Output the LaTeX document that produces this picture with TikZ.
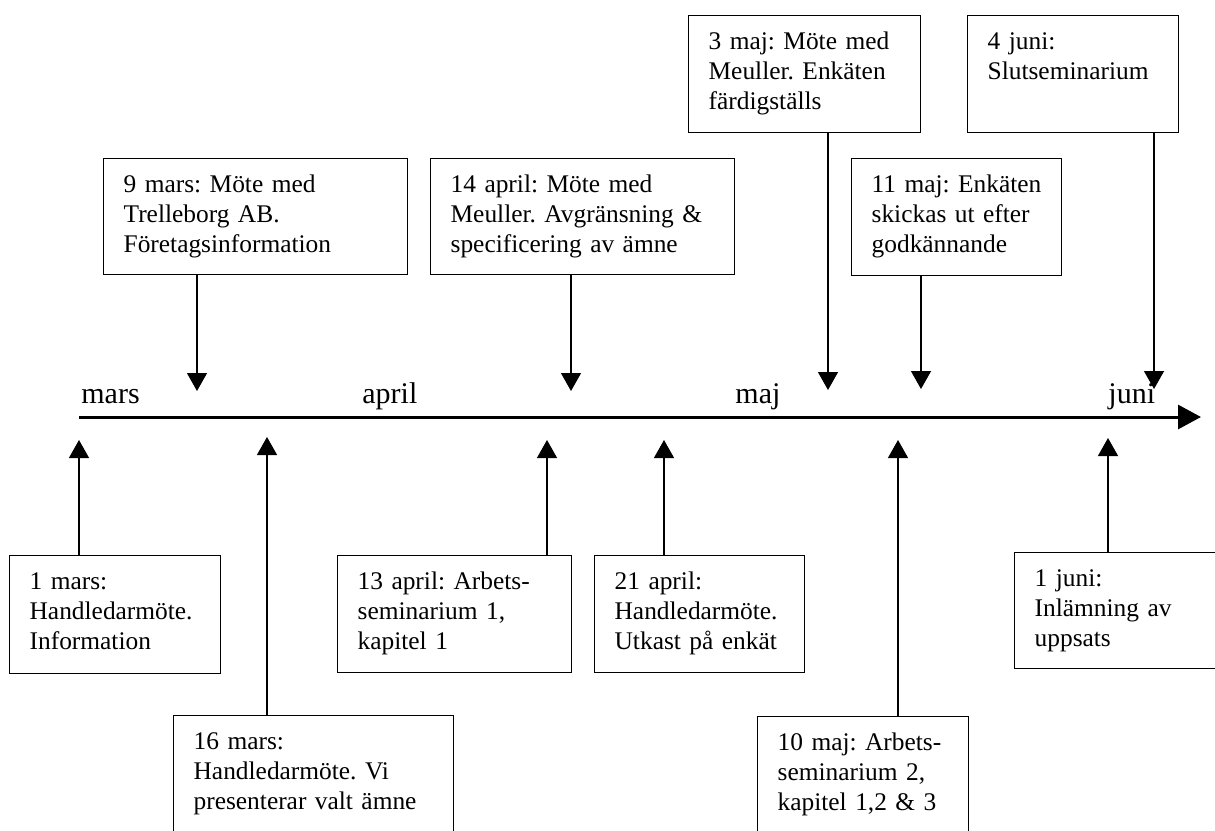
\documentclass[tikz,border=0pt]{standalone}
\usepackage{fontspec}
\setmainfont{Liberation Serif}
\usetikzlibrary{arrows.meta}
\frenchspacing

\tikzset{
  evbox/.style={draw, line width=0.65pt, anchor=north west, align=left,
    inner xsep=10pt, inner ysep=0pt, text height=17pt,
    font=\fontsize{12.7}{15}\selectfont},
  evarrow/.style={line width=0.65pt, -{Triangle[length=9pt,width=10pt]}},
  month/.style={anchor=base west, inner sep=0pt, font=\fontsize{15}{18}\selectfont}
}

\begin{document}
\begin{tikzpicture}[x=0.5pt, y=-0.5pt]
    \useasboundingbox (0,0) rectangle (1215,830);
    \clip (0,0) rectangle (1215,830);
    % time axis
    \coordinate (start) at (79,417);
    \coordinate (end) at (1201,417);
    \draw[line width=1.5pt, -{Triangle[length=11.5pt,width=12pt]}] (start) -- (end);
    \node[month] (mars) at (81,403) {mars};
    \node[month] (april) at (362,403) {april};
    \node[month] (maj) at (735,403) {maj};
    \node[month] (juni) at (1108,403) {juni};
    % above the axis
    \node[evbox, text width=132pt, text depth=41pt] (e9mars) at (103,158)
        {9 mars: Möte med\\Trelleborg AB.\\Företagsinformation};
    \node[evbox, text width=132pt, text depth=41pt] (e14apr) at (430,158)
        {14 april: Möte med\\Meuller. Avgränsning \&\\specificering av ämne};
    \node[evbox, text width=96pt, text depth=41.5pt] (e3maj) at (688,15)
        {3 maj: Möte med\\Meuller. Enkäten\\färdigställs};
    \node[evbox, text width=85pt, text depth=41.5pt] (e11maj) at (851,158)
        {11 maj: Enkäten\\skickas ut efter\\godkännande};
    \node[evbox, text width=85.5pt, text depth=41.5pt] (e4juni) at (967,15)
        {4 juni:\\Slutseminarium};
    \coordinate (p9mars) at (197,391);
    \coordinate (p14apr) at (571,391);
    \coordinate (p3maj) at (828,390);
    \coordinate (p11maj) at (921,389);
    \coordinate (p4juni) at (1154,389);
    \draw[evarrow] (e9mars.south -| p9mars) -- (p9mars);
    \draw[evarrow] (e14apr.south -| p14apr) -- (p14apr);
    \draw[evarrow] (e3maj.south -| p3maj) -- (p3maj);
    \draw[evarrow] (e11maj.south -| p11maj) -- (p11maj);
    \draw[evarrow] (e4juni.south -| p4juni) -- (p4juni);
    % below the axis
    \node[evbox, text width=85.5pt, text depth=42pt] (e1mars) at (9,555)
        {1 mars:\\Handledarmöte.\\Information};
    \node[evbox, text width=120pt, text depth=53pt] (e16mars) at (173,715)
        {16 mars:\\Handledarmöte. Vi\\presenterar valt ämne};
    \node[evbox, text width=97pt, text depth=41.5pt] (e13apr) at (337,555)
        {13 april: Arbets-\\seminarium 1,\\kapitel 1};
    \node[evbox, text width=85pt, text depth=41.5pt] (e21apr) at (594,555)
        {21 april:\\Handledarmöte.\\Utkast på enkät};
    \node[evbox, text width=85.5pt, text depth=53pt] (e10maj) at (757,716)
        {10 maj: Arbets-\\seminarium 2,\\kapitel 1,2 \& 3};
    \node[evbox, text width=86pt, text depth=41pt] (e1juni) at (1014,552)
        {1 juni:\\Inlämning av\\uppsats};
    \coordinate (p1mars) at (79,440);
    \coordinate (p16mars) at (267,437);
    \coordinate (p13apr) at (547,440);
    \coordinate (p21apr) at (664,440);
    \coordinate (p10maj) at (898,440);
    \coordinate (p1juni) at (1108,438);
    \draw[evarrow] (e1mars.north -| p1mars) -- (p1mars);
    \draw[evarrow] (e16mars.north -| p16mars) -- (p16mars);
    \draw[evarrow] (e13apr.north -| p13apr) -- (p13apr);
    \draw[evarrow] (e21apr.north -| p21apr) -- (p21apr);
    \draw[evarrow] (e10maj.north -| p10maj) -- (p10maj);
    \draw[evarrow] (e1juni.north -| p1juni) -- (p1juni);
\end{tikzpicture}
\end{document}
